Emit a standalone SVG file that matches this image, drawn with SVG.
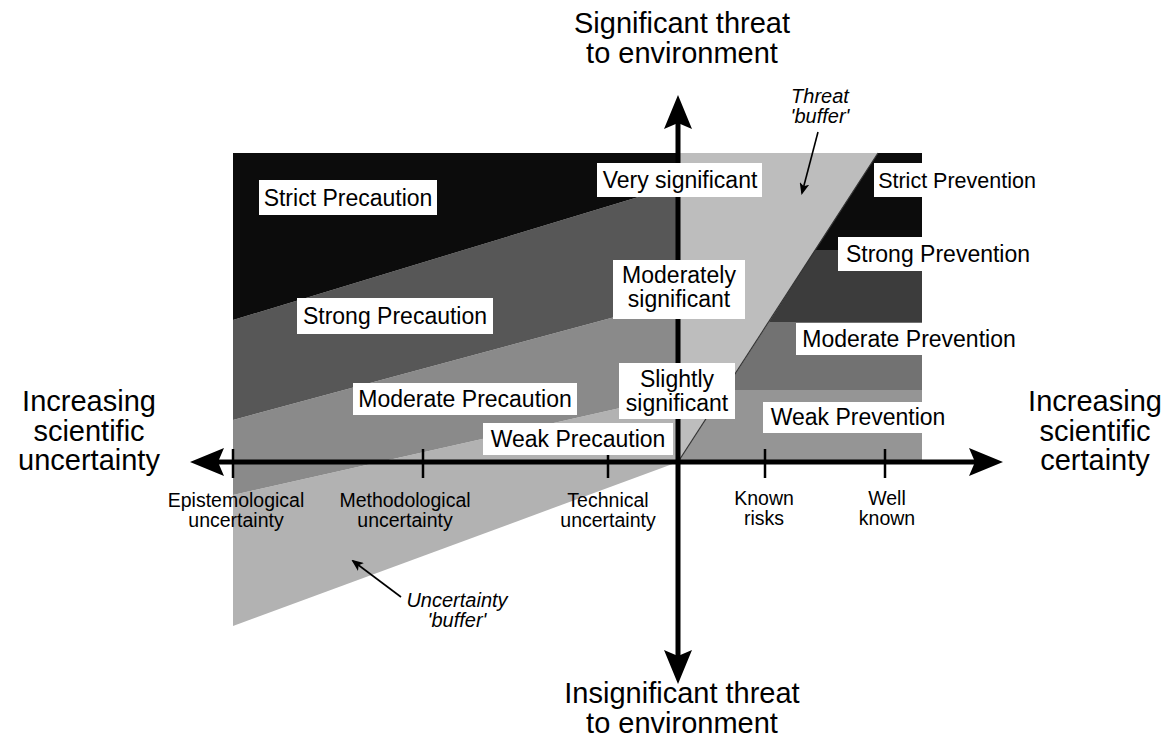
<svg xmlns="http://www.w3.org/2000/svg" width="1176" height="740" viewBox="0 0 1176 740">
<defs>
<marker id="ah" viewBox="0 0 34 28" refX="6" refY="14" markerWidth="34" markerHeight="28" markerUnits="userSpaceOnUse" orient="auto-start-reverse">
<path d="M0,0 L34,14 L0,28 L6,14 Z" fill="#000"/>
</marker>
<marker id="sm" viewBox="0 0 12 10" refX="10" refY="5" markerWidth="12" markerHeight="10" markerUnits="userSpaceOnUse" orient="auto">
<path d="M0,0 L12,5 L0,10 L3,5 Z" fill="#000"/>
</marker>
<style>
.lbl{fill:#fff}
.t{font-family:"Liberation Sans",Arial,sans-serif;font-size:23px;fill:#000;text-anchor:middle}
.ax{font-family:"Liberation Sans",Arial,sans-serif;font-size:29px;fill:#000;text-anchor:middle}
.tk{font-family:"Liberation Sans",Arial,sans-serif;font-size:19.5px;fill:#000;text-anchor:middle}
.it{font-family:"Liberation Sans",Arial,sans-serif;font-size:20px;font-style:italic;fill:#000;text-anchor:middle}
.axis{stroke:#000;stroke-width:5;fill:none}
.tick{stroke:#000;stroke-width:2.5}
.ptr{stroke:#000;stroke-width:1.6;fill:none}
</style>
</defs>
<rect width="1176" height="740" fill="#fff"/>
<g id="regions">
<polygon points="233,495 678,395 678,462 233,626" fill="#b2b2b2"/>
<polygon points="233,420 678,300 678,395 233,495" fill="#8a8a8a"/>
<polygon points="233,320 678,185 678,300 233,420" fill="#575757"/>
<polygon points="233,153 678,153 678,185 233,320" fill="#0c0c0c"/>
<polygon points="678,153 878,153 678,462" fill="#bdbdbd"/>
<polygon points="878,153 922,153 922,250 815,250" fill="#0c0c0c"/>
<polygon points="815,250 922,250 922,322 769,322" fill="#3c3c3c"/>
<polygon points="769,322 922,322 922,390 725,390" fill="#727272"/>
<polygon points="725,390 922,390 922,462 678,462" fill="#959595"/>
<line x1="678" y1="462" x2="878" y2="153" stroke="#333" stroke-width="1.2"/>
</g>
<g id="connectors">
<line class="axis" x1="218" y1="462" x2="975" y2="462" marker-start="url(#ah)" marker-end="url(#ah)"/>
<line class="axis" x1="678" y1="123" x2="678" y2="656" marker-start="url(#ah)" marker-end="url(#ah)"/>
<line class="tick" x1="233" y1="449" x2="233" y2="478"/>
<line class="tick" x1="423" y1="449" x2="423" y2="478"/>
<line class="tick" x1="608" y1="449" x2="608" y2="478"/>
<line class="tick" x1="765" y1="449" x2="765" y2="478"/>
<line class="tick" x1="885" y1="449" x2="885" y2="478"/>
<line class="ptr" x1="818" y1="132" x2="802" y2="193" marker-end="url(#sm)"/>
<line class="ptr" x1="401" y1="597" x2="353" y2="561" marker-end="url(#sm)"/>
</g>
<g id="strict-precaution"><rect class="lbl" x="259" y="180" width="178" height="35"/><text class="t" x="348" y="206">Strict Precaution</text></g>
<g id="strong-precaution"><rect class="lbl" x="297" y="298" width="196" height="36"/><text class="t" x="395" y="324">Strong Precaution</text></g>
<g id="moderate-precaution"><rect class="lbl" x="353" y="383" width="224" height="32"/><text class="t" x="465" y="407">Moderate Precaution</text></g>
<g id="weak-precaution"><rect class="lbl" x="483" y="423" width="190" height="32"/><text class="t" x="578" y="447">Weak Precaution</text></g>
<g id="very-significant"><rect class="lbl" x="597" y="163" width="165" height="34"/><text class="t" x="680" y="188">Very significant</text></g>
<g id="moderately-significant"><rect class="lbl" x="613" y="260" width="132" height="59"/><text class="t" x="679" y="283">Moderately</text><text class="t" x="679" y="307">significant</text></g>
<g id="slightly-significant"><rect class="lbl" x="619" y="363" width="116" height="56"/><text class="t" x="677" y="387">Slightly</text><text class="t" x="677" y="411">significant</text></g>
<g id="strict-prevention"><rect class="lbl" x="874" y="163" width="166" height="34"/><text class="t" x="957" y="188" style="font-size:21.5px">Strict Prevention</text></g>
<g id="strong-prevention"><rect class="lbl" x="838" y="237" width="200" height="34"/><text class="t" x="938" y="262">Strong Prevention</text></g>
<g id="moderate-prevention"><rect class="lbl" x="796" y="323" width="226" height="32"/><text class="t" x="909" y="347">Moderate Prevention</text></g>
<g id="weak-prevention"><rect class="lbl" x="763" y="402" width="192" height="31"/><text class="t" x="858" y="425">Weak Prevention</text></g>
<g id="threat-buffer"><text class="it" x="820" y="103">Threat</text><text class="it" x="820" y="123">'buffer'</text></g>
<g id="uncertainty-buffer"><text class="it" x="457" y="607">Uncertainty</text><text class="it" x="457" y="627">'buffer'</text></g>
<g id="title-top"><text class="ax" x="682" y="33">Significant threat</text><text class="ax" x="682" y="63">to environment</text></g>
<g id="title-bottom"><text class="ax" x="682" y="703">Insignificant threat</text><text class="ax" x="682" y="733">to environment</text></g>
<g id="title-left"><text class="ax" x="89" y="411">Increasing</text><text class="ax" x="89" y="441">scientific</text><text class="ax" x="89" y="470">uncertainty</text></g>
<g id="title-right"><text class="ax" x="1095" y="411">Increasing</text><text class="ax" x="1095" y="441">scientific</text><text class="ax" x="1095" y="470">certainty</text></g>
<g id="tick-labels">
<text class="tk" x="236" y="507">Epistemological</text><text class="tk" x="236" y="527">uncertainty</text>
<text class="tk" x="405" y="507">Methodological</text><text class="tk" x="405" y="527">uncertainty</text>
<text class="tk" x="608" y="507">Technical</text><text class="tk" x="608" y="527">uncertainty</text>
<text class="tk" x="764" y="505">Known</text><text class="tk" x="764" y="525">risks</text>
<text class="tk" x="887" y="505">Well</text><text class="tk" x="887" y="525">known</text>
</g>
</svg>
